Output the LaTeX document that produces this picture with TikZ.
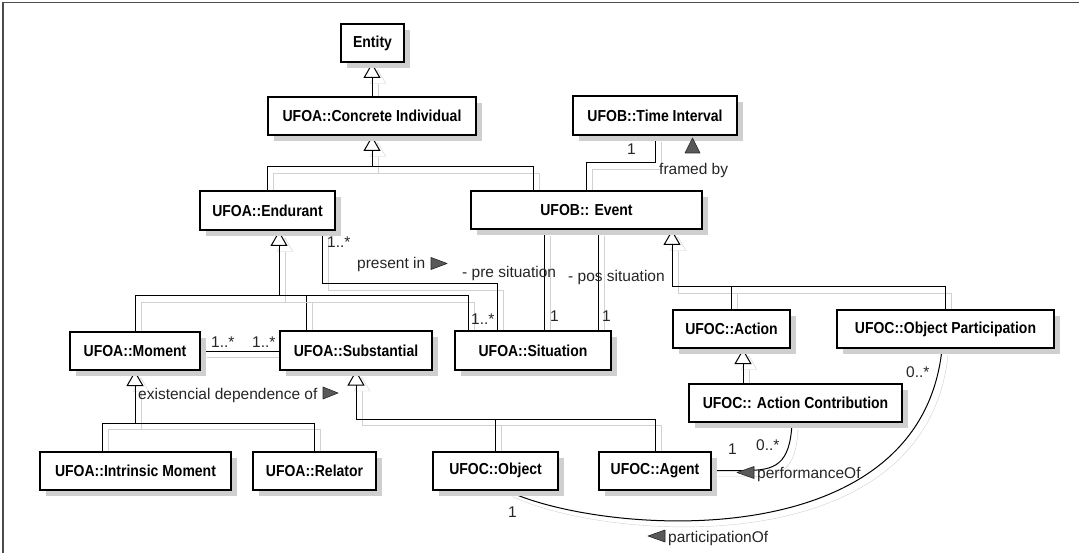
\documentclass[tikz,border=0pt]{standalone}
\usepackage{fontspec}
\setmainfont{Liberation Sans}
\newfontfamily\boxfont{Liberation Sans}[FakeStretch=0.88]
\usetikzlibrary{arrows.meta,shadows,calc}
\pgfdeclarelayer{bg}
\pgfsetlayers{bg,main}
\tikzset{
  box/.style={draw=black, line width=2pt, fill=white, inner sep=0pt,
     minimum height=38pt, font=\boxfont\fontsize{15.9pt}{18pt}\selectfont\bfseries,
     drop shadow={shadow xshift=6pt, shadow yshift=-6pt, fill=black!19, opacity=1}},
  conn/.style={line width=1pt, black, preaction={draw=black!18, transform canvas={shift={(6pt,-6pt)}}}},
  gen/.style={conn, -{Triangle[width=17pt,length=15pt,fill=white]}},
  lbl/.style={anchor=base west, inner sep=0pt, font=\fontsize{15.5pt}{17pt}\selectfont, text=black!85},
  marker/.style={fill=black!65, draw=black!85, line width=0.6pt, line join=round},
}
\begin{document}
\begin{tikzpicture}[x=1pt,y=-1pt]
\useasboundingbox (0,0) rectangle (1079,553);

\node[box, minimum width=63pt] (entity) at (372.5,43) {Entity};
\node[box, minimum width=208pt] (ci) at (372,116) {UFOA::Concrete Individual};
\node[box, minimum width=164pt, minimum height=39pt] (ti) at (655,115.5) {UFOB::Time Interval};
\node[box, minimum width=135pt, minimum height=39pt] (endu) at (267.5,210.5) {UFOA::Endurant};
\node[box, minimum width=231pt] (event) at (586.5,210) {UFOB:: Event};
\node[box, minimum width=130pt] (moment) at (135,351) {UFOA::Moment};
\node[box, minimum width=152pt] (subst) at (356,350.5) {UFOA::Substantial};
\node[box, minimum width=156pt] (situ) at (533,350.5) {UFOA::Situation};
\node[box, minimum width=117pt] (action) at (731.5,329) {UFOC::Action};
\node[box, minimum width=217pt] (objpart) at (945.5,329) {UFOC::Object Participation};
\node[box, minimum width=213pt] (actcon) at (795.5,403) {UFOC:: Action Contribution};
\node[box, minimum width=191pt] (intr) at (135.5,471) {UFOA::Intrinsic Moment};
\node[box, minimum width=123pt] (relator) at (314.5,471) {UFOA::Relator};
\node[box, minimum width=125pt] (object) at (495.5,470.5) {UFOC::Object};
\node[box, minimum width=112pt] (agent) at (655,470.5) {UFOC::Agent};

\begin{pgfonlayer}{bg}
\fill[white] (0,0) rectangle (1079,553);
\draw[black!70, line width=1.6pt] (3,553) -- (3,2.5) -- (1079,2.5);
\draw[gen] (ci.north) -- (ci.north |- entity.south);
\coordinate (jci) at (372,167);
\draw[gen] (endu.north) |- (jci) -- (ci.south);
\draw[conn] ([xshift=-53.5pt]event.north) |- (jci);
\coordinate (jen) at (279,296);
\draw[gen] (moment.north) |- (jen) -- (jen |- endu.south);
\draw[conn] ([xshift=-50pt]subst.north) |- (jen);
\draw[conn] ([xshift=-65pt]situ.north) |- (jen);
\coordinate (jev) at (672,287);
\draw[gen] (objpart.north) |- (jev) -- (jev |- event.south);
\draw[conn] (action.north) |- (jev);
\draw[gen] ([xshift=-52.5pt]actcon.north) -- ([xshift=-52.5pt]actcon.north |- action.south);
\coordinate (jmo) at (135,423);
\draw[gen] (relator.north) |- (jmo) -- (jmo |- moment.south);
\draw[conn] ([xshift=-33.5pt]intr.north) |- (jmo);
\coordinate (jsu) at (356,419);
\draw[gen] (agent.north) |- (jsu) -- (jsu |- subst.south);
\draw[conn] (object.north) |- (jsu);

\draw[conn] (moment.east) -- (moment.east -| subst.west);
\coordinate (jpi) at (497,284);
\draw[conn] ([xshift=55pt]endu.south) |- (jpi) -- (jpi |- situ.north);
\draw[conn] ([xshift=11pt]situ.north) -- ([xshift=11pt]situ.north |- event.south);
\draw[conn] ([xshift=65pt]situ.north) -- ([xshift=65pt]situ.north |- event.south);
\draw[conn] (ti.south) -- ++(0,27) -| (event.north);
\draw[conn] ([xshift=-3.5pt]actcon.south) .. controls (790,465) and (775,470.5) .. (745,470.5) -- (agent.east);
\draw[conn] ([xshift=-3.5pt]objpart.south) .. controls (920,560) and (600,535) .. ([xshift=11pt]object.south);
\end{pgfonlayer}

\node[lbl] (l1) at (211,348) {1..*};
\node[lbl] (l2) at (252,348) {1..*};
\node[lbl] (l3) at (327,248) {1..*};
\node[lbl] (l4) at (357,269) {present in};
\node[lbl] (l5) at (462,278) {- pre situation};
\node[lbl] (l6) at (568,282) {- pos situation};
\node[lbl] (l7) at (471,324) {1..*};
\node[lbl] (l8) at (550,322) {1};
\node[lbl] (l9) at (602,322) {1};
\node[lbl] (l10) at (627,155) {1};
\node[lbl] (l11) at (659,175) {framed by};
\node[lbl] (l12) at (138,399) {existencial dependence of};
\node[lbl] (l13) at (906,377) {0..*};
\node[lbl] (l14) at (756,450) {0..*};
\node[lbl] (l15) at (728,454) {1};
\node[lbl] (l16) at (757,478) {performanceOf};
\node[lbl] (l17) at (508,517) {1};
\node[lbl] (l18) at (668,542) {participationOf};

\draw[marker] (431,257.5) -- (447,263.5) -- (431,269.5) -- cycle;
\draw[marker] (323,387) -- (338,393) -- (323,399) -- cycle;
\draw[marker] (692.5,138) -- (700,153) -- (685,153) -- cycle;
\draw[marker] (737,472.5) -- (754,466.5) -- (754,478.5) -- cycle;
\draw[marker] (648,536) -- (665,530) -- (665,542) -- cycle;
\end{tikzpicture}
\end{document}
